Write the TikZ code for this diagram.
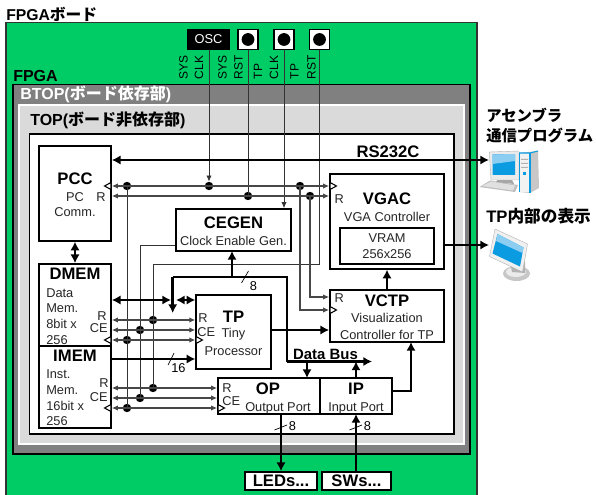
\documentclass[tikz,border=0pt]{standalone}
\usepackage{fontspec}
\setmainfont{Liberation Sans}
\newfontfamily\jp{Noto Sans CJK JP Bold}
\newcommand{\jt}[1]{{\jp #1}}
\usetikzlibrary{arrows.meta}
\definecolor{bgreen}{HTML}{00CC66}
\definecolor{dgray}{HTML}{808080}
\definecolor{lgray}{HTML}{DADADA}
\definecolor{scrn}{HTML}{0A9BE0}
\definecolor{scrnl}{HTML}{8CCDF2}
\tikzset{
 x=0.75pt,y=-0.75pt,
 blockbox/.style={draw=black,line width=1.3pt,fill=white,inner sep=0pt},
 ttl/.style={font=\fontsize{12.5}{14}\selectfont\bfseries,inner sep=0pt},
 sub/.style={font=\fontsize{9.6}{11}\selectfont,inner sep=0pt,text=black!85},
 pin/.style={font=\fontsize{9.6}{11}\selectfont,inner sep=0pt,text=black!85},
 hdr/.style={font=\fontsize{12}{14}\selectfont\bfseries,inner sep=0pt,anchor=west},
 rot/.style={font=\fontsize{9}{10}\selectfont,rotate=90,inner sep=0pt,anchor=mid west},
 tin/.style={line width=0.6pt,draw=black!80},
 sig/.style={line width=0.85pt,draw=black!72},
 bus/.style={line width=2.2pt},
 one/.style={-{Latex[length=4.5pt,width=4pt]}},
 two/.style={{Latex[length=4.5pt,width=4pt]}-{Latex[length=4.5pt,width=4pt]}},
 bone/.style={bus,-{Latex[length=6.5pt,width=7pt]}},
 btwo/.style={bus,{Latex[length=6.5pt,width=7pt]}-{Latex[length=6.5pt,width=7pt]}},
 jdot/.style={circle,fill=black,inner sep=0pt,minimum size=6.3pt},
 slash/.style={line width=0.5pt},
 num/.style={font=\fontsize{9.6}{11}\selectfont,inner sep=0pt},
 clk/.style={draw=black,fill=white,line width=0.8pt},
}
\begin{document}
\begin{tikzpicture}
\useasboundingbox (0,0) rectangle (596,495);
\clip (0,0) rectangle (596,495);
% nested backgrounds
\fill[bgreen,draw=black!80,line width=0.9pt] (6,22.5) rectangle (477,500);
\fill[dgray,draw=black,line width=0.9pt] (13,84.5) rectangle (470,454);
\fill[lgray,draw=white,line width=0.9pt] (19,105) rectangle (464,444);
\fill[white,draw=black,line width=0.9pt] (29.5,134) rectangle (454,434);
% headers
\node[hdr,font=\fontsize{11.8}{14}\selectfont\bfseries] (hboard) at (6,14) {FPGA\jt{ボード}};
\node[hdr] (hfpga) at (13,76) {FPGA};
\node[hdr,text=white] (hbtop) at (20,94) {BTOP(\jt{ボード依存部})};
\node[hdr] (htop) at (30,120) {TOP(\jt{ボード非依存部})};
\node[hdr,font=\fontsize{11.5}{14}\selectfont\bfseries] (hasm) at (486,115) {\jt{アセンブラ}};
\node[hdr,font=\fontsize{11.5}{14}\selectfont\bfseries] (hcom) at (486,136) {\jt{通信プログラム}};
\node[hdr,font=\fontsize{12.5}{14}\selectfont\bfseries] (hdisp) at (486,216) {TP\jt{内部の表示}};
% osc and switches
\node[fill=black,text=white,minimum width=32.5pt,minimum height=16pt,inner sep=0pt,font=\fontsize{9.6}{10}\selectfont] (osc) at (208.5,39.5) {OSC};
\foreach \n/\xx in {swa/248,swb/284,swc/319.5}{
 \node[draw=black,line width=1.3pt,fill=white,minimum size=15pt,inner sep=0pt] (\n) at (\xx,39.5) {};
 \fill[black] (\n.center) circle (6.4);
}
\node[rot] at (184,79.5) {SYS};
\node[rot] at (199.5,79.5) {CLK};
\node[rot] at (223,79.5) {SYS};
\node[rot] at (239,79.5) {RST};
\node[rot] at (258.5,79.5) {TP};
\node[rot] at (274.5,79.5) {CLK};
\node[rot] at (295,79.5) {TP};
\node[rot] at (312,79.5) {RST};
% blocks
\node[blockbox,minimum width=54pt,minimum height=71pt] (pcc) at (75,193.5) {};
\node[blockbox,minimum width=86pt,minimum height=31.5pt] (cegen) at (233.5,230) {};
\node[blockbox,minimum width=54pt,minimum height=61.5pt] (dmem) at (75,305) {};
\node[blockbox,minimum width=54pt,minimum height=61.5pt] (imem) at (75,387) {};
\node[blockbox,minimum width=56pt,minimum height=55.5pt] (tp) at (233.5,332) {};
\node[blockbox,minimum width=76.5pt,minimum height=27pt] (op) at (269,396) {};
\node[blockbox,minimum width=54pt,minimum height=27pt] (ip) at (356,396) {};
\node[blockbox,minimum width=85.5pt,minimum height=71pt] (vgac) at (387,221.5) {};
\node[blockbox,minimum width=70.5pt,minimum height=27pt] (vram) at (387,246) {};
\node[blockbox,minimum width=85.5pt,minimum height=39pt] (vctp) at (387,316) {};
\node[blockbox,minimum width=54pt,minimum height=13.5pt] (led) at (281,481) {};
\node[blockbox,minimum width=52pt,minimum height=13.5pt] (swi) at (356.5,481) {};
% block texts
\node[ttl] at (75,179) {PCC};
\node[sub] at (75,196.7) {PC};
\node[sub] at (75,212) {Comm.};
\node[ttl] at (233.5,222.7) {CEGEN};
\node[sub] at (233.5,240.7) {Clock Enable Gen.};
\node[ttl] at (75,274) {DMEM};
\node[sub,anchor=west] at (46,292.7) {Data};
\node[sub,anchor=west] at (46,308) {Mem.};
\node[sub,anchor=west] at (46,324) {8bit x};
\node[sub,anchor=west] at (46,339.7) {256};
\node[ttl] at (75,356) {IMEM};
\node[sub,anchor=west] at (46,373.7) {Inst.};
\node[sub,anchor=west] at (46,390) {Mem.};
\node[sub,anchor=west] at (46,406) {16bit x};
\node[sub,anchor=west] at (46,421) {256};
\node[ttl] at (233.5,316.7) {TP};
\node[sub] at (233.5,334) {Tiny};
\node[sub] at (233.5,350.7) {Processor};
\node[ttl] at (268,389) {OP};
\node[sub] at (278,408) {Output Port};
\node[ttl] at (356,389) {IP};
\node[sub] at (356,408) {Input Port};
\node[ttl] at (387,199) {VGAC};
\node[sub] at (387,216.7) {VGA Controller};
\node[sub] at (387,238) {VRAM};
\node[sub] at (387,254.3) {256x256};
\node[ttl] at (387,301) {VCTP};
\node[sub] at (387,318.3) {Visualization};
\node[sub] at (387,334.7) {Controller for TP};
\node[ttl] at (388,152) {RS232C};
\node[ttl,font=\fontsize{11.2}{13}\selectfont\bfseries] at (325.5,354) {Data Bus};
\node[ttl] at (281,481) {LEDs...};
\node[ttl] at (356.5,481) {SWs...};
% pin labels
\node[pin,anchor=east] at (106,197) {R};
\node[pin,anchor=east] at (107,315.7) {R};
\node[pin,anchor=east] at (108,328) {CE};
\node[pin,anchor=east] at (109,383) {R};
\node[pin,anchor=east] at (108,396.7) {CE};
\node[pin,anchor=west] at (198,318) {R};
\node[pin,anchor=west] at (197,331.7) {CE};
\node[pin,anchor=west] at (222,387.7) {R};
\node[pin,anchor=west] at (222,400.7) {CE};
\node[pin,anchor=west] at (334.3,199) {R};
\node[pin,anchor=west] at (334.3,298) {R};
% junctions
\node[jdot] (j1) at (127,186) {};
\node[jdot] (j2) at (209,186) {};
\node[jdot] (j3) at (300,186) {};
\node[jdot] (j4) at (248,196) {};
\node[jdot] (j5) at (310,196) {};
\node[jdot] (j6) at (153,320) {};
\node[jdot] (j7) at (140,330) {};
\node[jdot] (j8) at (127,340) {};
\node[jdot] (j9) at (153,388) {};
\node[jdot] (j10) at (140,398) {};
\node[jdot] (j11) at (127,408) {};
% thin wires
\draw[tin,one] (osc.south -| j2) -- (j2.north);
\draw[tin] (swa.south) -- (j4.center);
\draw[tin,one] (swb.south) -- (cegen.north -| swb);
\draw[tin] (swc.south) -- (319.5,264) -- (153,264) -- (j9.center);
\draw[tin] (cegen.west |- 0,245) -- (140,245) -- (j10.center);
\draw[tin] (j1.center) -- (j11.center);
\draw[sig,one] (j3.center) -- (300,310) -- (vctp.west |- 0,310);
\draw[sig,one] (j5.center) -- (310,297) -- (vctp.west |- 0,297);
\draw[sig,two] (pcc.east |- j1) -- (vgac.west |- j1);
\draw[sig,two] (pcc.east |- j4) -- (vgac.west |- j4);
\foreach \j in {j6,j7,j8}{\draw[sig,two] (dmem.east |- \j) -- (tp.west |- \j);}
\foreach \j in {j9,j10,j11}{\draw[sig,two] (imem.east |- \j) -- (op.west |- \j);}
% clock triangles
\foreach \xx/\yy/\d in {111/186/-1,330/186/1,111/340/-1,196/340/1,111/408/-1,218/408/1,330/310/1}{
 \draw[clk] (\xx,\yy-3.5) -- (\xx+\d*6.5,\yy) -- (\xx,\yy+3.5) -- cycle;
}
% icons
\coordinate (pcicon) at (489,160);
\coordinate (monicon) at (489,245);
% PC icon
\fill[black!25] (479.5,187) -- (490,180.5) -- (518,185) -- (515,192) -- cycle;
\fill[black!12] (482,186) -- (491,181.5) -- (515,185.5) -- (513,190.5) -- cycle;
\fill[black!35] (500,176) -- (510,176) -- (514,184) -- (496,182) -- cycle;
\fill[black!8,draw=black!30,line width=0.3pt] (489.3,152) -- (519,151) -- (519,180) -- (491,180) -- cycle;
\fill[scrn] (492.5,154.5) -- (515,154) -- (515,175) -- (492.5,175) -- cycle;
\fill[scrnl] (492.5,154.5) -- (515,154) -- (515,161) -- (492.5,164) -- cycle;
\fill[black!22] (519,153) -- (538,151) -- (539,188) -- (530,193) -- (519,192) -- cycle;
\fill[black!5] (519,153) -- (530,153) -- (530,192) -- (519,192) -- cycle;
\draw[scrn,line width=0.8pt] (519,153) -- (530,153) -- (538,151);
\draw[scrn,line width=0.8pt] (530,153) -- (530,193);
\draw[scrn,line width=0.5pt] (519,153) -- (519,192);
\fill[black!30] (521,159) rectangle (528,160) (521,163) rectangle (528,164) (521,167) rectangle (528,168);
\fill[scrn] (523,172) rectangle (526,175);
% monitor icon
\fill[black!22] (516.5,273.5) ellipse (13.5 and 7.5);
\fill[black!8] (516,272) ellipse (10 and 5);
\fill[black!30] (510,262) -- (525,262) -- (525,273) -- (512,272) -- cycle;
\fill[black!6,draw=black!30,line width=0.3pt] (495,229) -- (527.5,244) -- (522.5,272) -- (489.5,256.5) -- cycle;
\fill[scrn] (497.5,234) -- (523.5,247.5) -- (520,266.5) -- (492.5,253.5) -- cycle;
\fill[scrnl] (497.5,234) -- (523.5,247.5) -- (522.5,253) -- (496,241) -- cycle;
% buses
\draw[btwo] (pcc.east |- pcicon) -- (pcicon);
\draw[btwo] (pcc.south) -- (dmem.north);
\draw[btwo] (dmem.east |- 0,300) -- (171,300);
\draw[btwo] (176,300) -- (tp.west |- 0,300);
\coordinate (ba) at (172.7,277);
\coordinate (bb) at (287,277);
\coordinate (bc) at (287,361.5);
\draw[bone] (ba) -- (172.7,313);
\draw[bus,line cap=square] (ba) -- (bb) -- (bc);
\draw[bone] (232,277) -- (232,251);
\draw[bone] (bc) -- (372,361.5);
\draw[bone] (tp.east |- 0,330) -- (vctp.west |- 0,330);
\draw[bone] (imem.east |- 0,359) -- (tp.west |- 0,359);
\draw[bone] (307,361.5) -- (307,378);
\draw[bone] (356,378) -- (356,361.5);
\draw[bone] (ip.east |- 0,391) -- (411,391) -- (411,342);
\draw[bone] (vctp.north) -- (vgac.south);
\draw[bone] (vgac.east |- monicon) -- (monicon);
\draw[bone] (281,414) -- (led.north);
\draw[bone] (swi.north -| 356,0) -- (356,414);
% bus-width marks
\draw[slash] (241.5,283) -- (248.5,271);
\node[num] at (253.5,286.5) {8};
\draw[slash] (168,365) -- (174,353);
\node[num] at (178.5,368) {16};
\draw[slash] (274.5,430) -- (287,425);
\node[num] at (292.5,426.5) {8};
\draw[slash] (349.5,430) -- (362,425);
\node[num] at (367.5,426.5) {8};
\end{tikzpicture}
\end{document}
